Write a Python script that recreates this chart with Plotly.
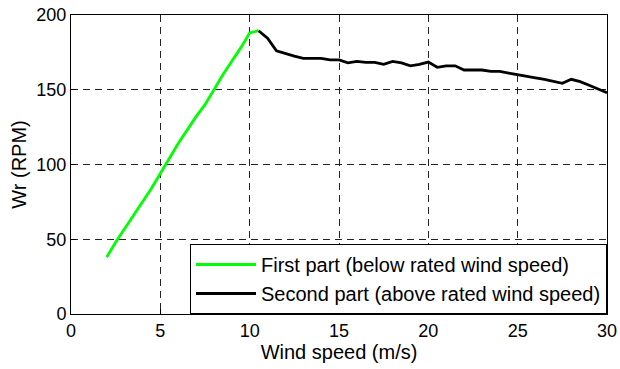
import plotly.graph_objects as go

# Rotor speed vs wind speed, below rated (MPPT region)
wind_low = [2, 2.5, 3, 3.5, 4, 4.5, 5, 5.5, 6, 6.5, 7, 7.5, 8, 8.5, 9, 9.5, 10, 10.5]
wr_low = [38, 48, 57, 66, 75, 84, 94, 104, 114, 123, 132, 140, 150, 160, 169, 178, 188, 189.5]

# Rotor speed vs wind speed, above rated (pitch-controlled region)
wind_high = [10.5, 11, 11.5, 12, 12.5, 13, 13.5, 14, 14.5, 15, 15.5, 16, 16.5, 17, 17.5,
             18, 18.5, 19, 19.5, 20, 20.5, 21, 21.5, 22, 22.5, 23, 23.5, 24, 24.5, 25,
             25.5, 26, 26.5, 27, 27.5, 28, 28.5, 29, 29.5, 30]
wr_high = [189.5, 184.5, 176, 174, 172.5, 171, 171, 171, 170, 170, 168, 169, 168.3, 168.3, 167,
           169, 168, 166, 167, 168.5, 165, 166, 166, 163.2, 163.2, 163.2, 162.3, 162.3, 161.2, 160,
           159, 158, 157, 155.6, 154.3, 157, 155.4, 153, 150.3, 148]

x_ticks = [0, 5, 10, 15, 20, 25, 30]
y_ticks = [0, 50, 100, 150, 200]

FONT = "Liberation Sans, Arial, Helvetica, sans-serif"

fig = go.Figure()
fig.add_trace(go.Scatter(
    x=wind_low, y=wr_low, mode="lines",
    name="First part (below rated wind speed)",
    line=dict(color="#00ff00", width=2.8),
))
fig.add_trace(go.Scatter(
    x=wind_high, y=wr_high, mode="lines",
    name="Second part (above rated wind speed)",
    line=dict(color="#000000", width=2.8),
))

axis_common = dict(
    showline=True, linecolor="black", linewidth=1, mirror=True,
    ticks="inside", ticklen=5, tickcolor="black",
    showgrid=True, gridcolor="#222222", gridwidth=1, griddash="7px,5px",
    zeroline=False, automargin=False,
    tickfont=dict(family=FONT, size=18, color="black"),
)

fig.update_xaxes(
    range=[0, 30], tickvals=x_ticks,
    title=dict(text="Wind speed (m/s)", font=dict(family=FONT, size=20, color="black"), standoff=0),
    **axis_common,
)
fig.update_yaxes(
    range=[0, 200], tickvals=y_ticks,
    title=dict(text="Wr (RPM)", font=dict(family=FONT, size=20, color="black"), standoff=4),
    **axis_common,
)

fig.update_layout(
    width=620, height=369,
    margin=dict(l=71, r=13, t=15, b=55),
    paper_bgcolor="white", plot_bgcolor="white",
    font=dict(family=FONT, size=18, color="black"),
    showlegend=True,
    legend=dict(
        x=1, y=0, xanchor="right", yanchor="bottom",
        bgcolor="white", bordercolor="black", borderwidth=1,
        font=dict(family=FONT, size=20, color="black"),
        tracegroupgap=0, itemwidth=60,
    ),
)

fig.write_html("out.html")
